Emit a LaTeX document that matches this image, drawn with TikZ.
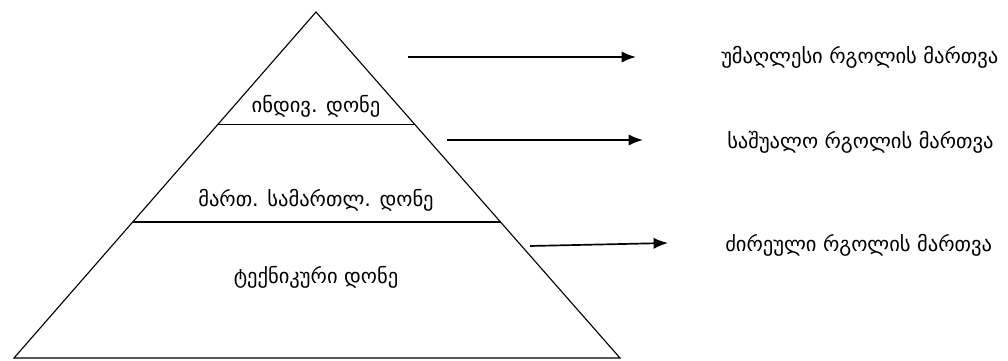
\documentclass[tikz,border=0pt]{standalone}
\usepackage{fontspec}
\setmainfont{DejaVu Sans}
\usetikzlibrary{arrows.meta, positioning, calc}

\begin{document}
\begin{tikzpicture}[scale=1, thick,
    level/.style={font=\fontsize{14.6}{17}\selectfont},
    note/.style={font=\fontsize{14.6}{17}\selectfont, anchor=west},
    pointer/.style={line width=1.2pt, -{Latex[length=3.6mm, width=2.8mm]}}]
      \useasboundingbox (0, 0) rectangle (25.2, 9);
      % pyramid
      \coordinate (top) at (7.9, 8.7);
      \coordinate (bl) at (0.35, 0.05);
      \coordinate (br) at (15.5, 0.05);
      \draw (bl) -- (top) -- (br) -- cycle;
      \coordinate (l1a) at ($(top)!0.324!(bl)$);
      \coordinate (l1b) at ($(top)!0.324!(br)$);
      \coordinate (l2a) at ($(top)!0.607!(bl)$);
      \coordinate (l2b) at ($(top)!0.607!(br)$);
      \draw (l1a) -- (l1b);
      \draw (l2a) -- (l2b);
      \node[level] (indiv) at (7.9, 6.35) {ინდივ. დონე};
      \node[level] (samart) at (7.9, 4.0) {მართ. სამართლ. დონე};
      \node[level] (teqn) at (7.9, 2.075) {ტექნიკური დონე};
      % levels of management
      \node[note] (high) at (17.9, 7.575) {უმაღლესი რგოლის მართვა};
      \node[note] (mid) at (18.05, 5.45) {საშუალო რგოლის მართვა};
      \node[note] (low) at (18.0, 2.875) {ძირეული რგოლის მართვა};
      \coordinate (a1) at (10.2, 7.575);
      \coordinate (b1) at (15.9, 7.575);
      \coordinate (a2) at (11.175, 5.5);
      \coordinate (b2) at (16.075, 5.5);
      \coordinate (a3) at (13.25, 2.85);
      \coordinate (b3) at (16.7, 2.925);
      \draw[pointer] (a1) -- (b1);
      \draw[pointer] (a2) -- (b2);
      \draw[pointer] (a3) -- (b3);
    \end{tikzpicture}
\end{document}
